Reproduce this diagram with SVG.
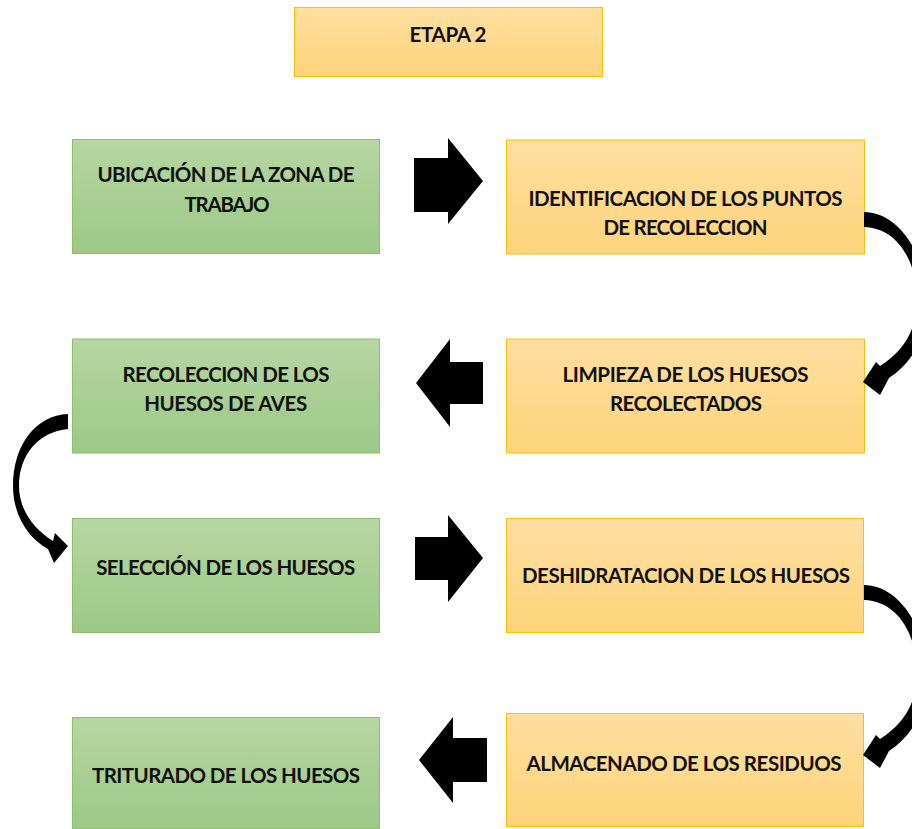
<svg xmlns="http://www.w3.org/2000/svg" xmlns:xlink="http://www.w3.org/1999/xlink" width="912" height="829" viewBox="0 0 912 829">
<defs>
<linearGradient id="gGreen" x1="0" y1="0" x2="0" y2="1">
<stop offset="0" stop-color="#b6d7a3"/>
<stop offset="1" stop-color="#9dc886"/>
</linearGradient>
<linearGradient id="gOrange" x1="0" y1="0" x2="0" y2="1">
<stop offset="0" stop-color="#ffdfa1"/>
<stop offset="1" stop-color="#fed47b"/>
</linearGradient>
<path id="curveR" d="M864,212 C900,212 927,258 927,300 C927,337 913,362 889,378 L880,395 L863,382 L876,362 L880,366 C905,350 917,328 917,300 C917,262 898,228 864,227 Z"/>
</defs>
<style>
.g rect{fill:url(#gGreen);stroke:#8cbf6c;stroke-width:1}
.o rect{fill:url(#gOrange);stroke:#ffc000;stroke-width:1}
text{font-family:Lato,"Open Sans","Liberation Sans",sans-serif;font-weight:bold;font-size:20.5px;fill:#111;text-anchor:middle}
.arrows path,.arrows polygon,.arrows use{fill:#000}
</style>
<g id="etapa" class="o">
<rect x="294.5" y="7.5" width="308" height="69"/>
<text x="448" y="42" textLength="77">ETAPA 2</text>
</g>
<g id="n1" class="g">
<rect x="72.5" y="139.5" width="307" height="114"/>
<text x="226" y="182" textLength="257">UBICACIÓN DE LA ZONA DE</text>
<text x="227" y="212" textLength="85">TRABAJO</text>
</g>
<g id="n2" class="o">
<rect x="506.5" y="140" width="358" height="114"/>
<text x="685.5" y="206" textLength="314">IDENTIFICACION DE LOS PUNTOS</text>
<text x="685.5" y="235" textLength="164">DE RECOLECCION</text>
</g>
<g id="n3" class="o">
<rect x="506.5" y="339" width="358" height="114"/>
<text x="685.5" y="382" textLength="246">LIMPIEZA DE LOS HUESOS</text>
<text x="686" y="411" textLength="152">RECOLECTADOS</text>
</g>
<g id="n4" class="g">
<rect x="72.5" y="339" width="307" height="114"/>
<text x="226" y="382" textLength="207">RECOLECCION DE LOS</text>
<text x="225.7" y="411" textLength="163">HUESOS DE AVES</text>
</g>
<g id="n5" class="g">
<rect x="72.5" y="518.5" width="307" height="114"/>
<text x="225.7" y="575" textLength="259">SELECCIÓN DE LOS HUESOS</text>
</g>
<g id="n6" class="o">
<rect x="506.5" y="518.5" width="357" height="114"/>
<text x="686" y="583" textLength="328">DESHIDRATACION DE LOS HUESOS</text>
</g>
<g id="n7" class="o">
<rect x="506.5" y="713.5" width="357" height="113"/>
<text x="684" y="771" textLength="315">ALMACENADO DE LOS RESIDUOS</text>
</g>
<g id="n8" class="g">
<rect x="72.5" y="717.5" width="307" height="111"/>
<text x="226" y="783" textLength="268">TRITURADO DE LOS HUESOS</text>
</g>
<g id="connectors" class="arrows">
<polygon points="414,158 448,158 448,138 483,181 448,224 448,212 414,212"/>
<polygon points="483,362 450,362 450,339 416,383 450,427 450,404 483,404"/>
<polygon points="415,537 448,537 448,515 483,558 448,602 448,580 415,580"/>
<polygon points="487,738 453,738 453,717 419,760 453,803 453,782 487,782"/>
<use xlink:href="#curveR"/>
<use xlink:href="#curveR" transform="translate(0,373)"/>
<path d="M68,414 C36,415 13,445 13,486 C13,515 28,538 48,549 L54,563 L68,546 L55,533 L53,541 C32,528 19,508 19,486 C19,455 38,432 68,429 Z"/>
</g>
</svg>
